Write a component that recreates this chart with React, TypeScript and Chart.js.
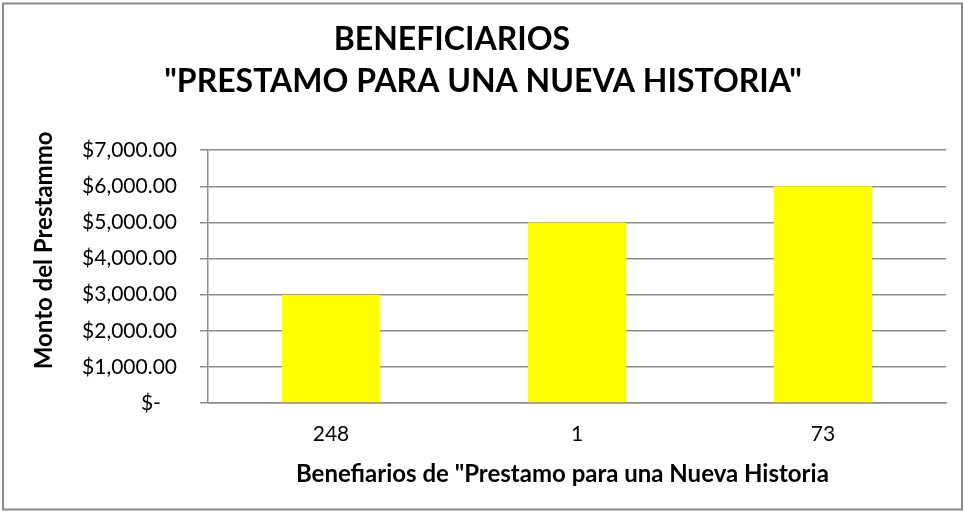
import { useEffect, useRef } from "react";
import { Chart, registerables } from "chart.js";

Chart.register(...registerables);

const categories: string[] = ["248", "1", "73"];
const montos: number[] = [3000, 5000, 6000];
const yMax = 7000;
const yStep = 1000;
const titleLines: string[] = ["BENEFICIARIOS        ", "\"PRESTAMO PARA UNA NUEVA HISTORIA\""];
const xTitle = "Benefiarios de \"Prestamo para una Nueva Historia";
const yTitle = "Monto del Prestammo";

const FONT = "Lato, Carlito, Calibri, 'Noto Sans', sans-serif";
const GRID = "#8c8c8c";

const borderPlugin = {
  id: "outerBorder",
  afterDraw(chart: any) {
    const ctx = chart.ctx;
    ctx.save();
    ctx.strokeStyle = "#8a8a8a";
    ctx.lineWidth = 2;
    ctx.strokeRect(3, 3.5, chart.width - 5, chart.height - 6);
    ctx.restore();
  },
};

function fmt(v: number): string {
  if (v === 0) return "$-   ";
  return "$" + v.toLocaleString("en-US", { minimumFractionDigits: 2, maximumFractionDigits: 2 });
}

export default function App() {
  const ref = useRef<HTMLCanvasElement | null>(null);
  useEffect(() => {
    document.body.style.margin = "0";
    const chart = new Chart(ref.current as HTMLCanvasElement, {
      type: "bar",
      data: {
        labels: categories,
        datasets: [
          {
            data: montos,
            backgroundColor: "#ffff00",
            borderWidth: 0,
            barPercentage: 0.4,
            categoryPercentage: 1,
          },
        ],
      },
      options: {
        animation: false,
        responsive: false,
        layout: { padding: { top: 12, left: 20, right: 18, bottom: 0 } },
        plugins: {
          legend: { display: false },
          tooltip: { enabled: false },
          title: {
            display: true,
            text: titleLines,
            color: "#000",
            font: { family: FONT, size: 32, weight: "bold", lineHeight: 1.3 },
            padding: { top: 7, bottom: 48 },
          },
        },
        scales: {
          x: {
            afterFit(scale: any) {
              scale.height = 109;
            },
            grid: { display: false, drawTicks: false },
            border: { display: true, color: GRID, width: 1.5 },
            ticks: { color: "#000", font: { family: FONT, size: 21 }, padding: 19 },
            title: {
              display: true,
              text: xTitle + "     ",
              color: "#000",
              font: { family: FONT, size: 24, weight: "bold" },
              padding: { top: 0, bottom: 23 },
            },
          },
          y: {
            min: 0,
            max: yMax,
            afterFit(scale: any) {
              scale.width = 188;
            },
            ticks: {
              stepSize: yStep,
              color: "#000",
              font: { family: FONT, size: 21 },
              padding: 23,
              callback: (v: any) => fmt(Number(v)),
            },
            grid: { color: GRID, lineWidth: 1.5, tickLength: 8, drawTicks: true },
            border: { display: true, color: GRID, width: 1.5 },
            title: {
              display: true,
              text: "         " + yTitle,
              color: "#000",
              font: { family: FONT, size: 24, weight: "bold" },
              padding: { top: 10, bottom: 0 },
            },
          },
        },
      },
      plugins: [borderPlugin],
    });
    return () => chart.destroy();
  }, []);
  return (
    <div style={{ width: 964, height: 512, background: "#fff" }}>
      <canvas ref={ref} width={964} height={512} />
    </div>
  );
}
